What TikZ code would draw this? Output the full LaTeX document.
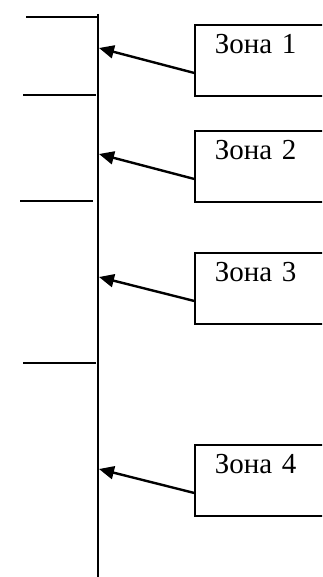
\documentclass[tikz,border=0pt]{standalone}
\usepackage{fontspec}
\setmainfont{Liberation Serif}
\usetikzlibrary{arrows.meta}
\begin{document}
\begin{tikzpicture}[x=1pt,y=-1pt,
  zone/.style={draw,line width=1.8pt,anchor=north west,inner xsep=20pt,inner ysep=0pt,
    text height=29pt,text depth=42pt,text width=125pt,align=left,
    font=\fontsize{29}{33}\selectfont},
  tick/.style={line width=1.9pt},
  axis/.style={line width=1.9pt},
  pointer/.style={line width=2.4pt,-{Triangle[length=15pt,width=13pt]}}]
\useasboundingbox (0,0) rectangle (322,577);
\clip (0,0) rectangle (322,577);
\coordinate (vtop) at (98,14);
\coordinate (vbot) at (98,580);
\draw[axis] (vtop) -- (vbot);
\draw[tick] (26,17) -- (97,17);
\draw[tick] (23,95) -- (96,95);
\draw[tick] (20,201) -- (93,201);
\draw[tick] (23,363) -- (96,363);
\node[zone] (b1) at (194,24) {Зона 1};
\node[zone] (b2) at (194,130) {Зона 2};
\node[zone] (b3) at (194,252) {Зона 3};
\node[zone] (b4) at (194,444) {Зона 4};
\coordinate (t1) at (99,48);
\coordinate (t2) at (99,154);
\coordinate (t3) at (99,277);
\coordinate (t4) at (99,469);
\draw[pointer] ([yshift=-12.5pt]b1.west) -- (t1);
\draw[pointer] ([yshift=-12.5pt]b2.west) -- (t2);
\draw[pointer] ([yshift=-12.5pt]b3.west) -- (t3);
\draw[pointer] ([yshift=-12.5pt]b4.west) -- (t4);
\end{tikzpicture}
\end{document}
